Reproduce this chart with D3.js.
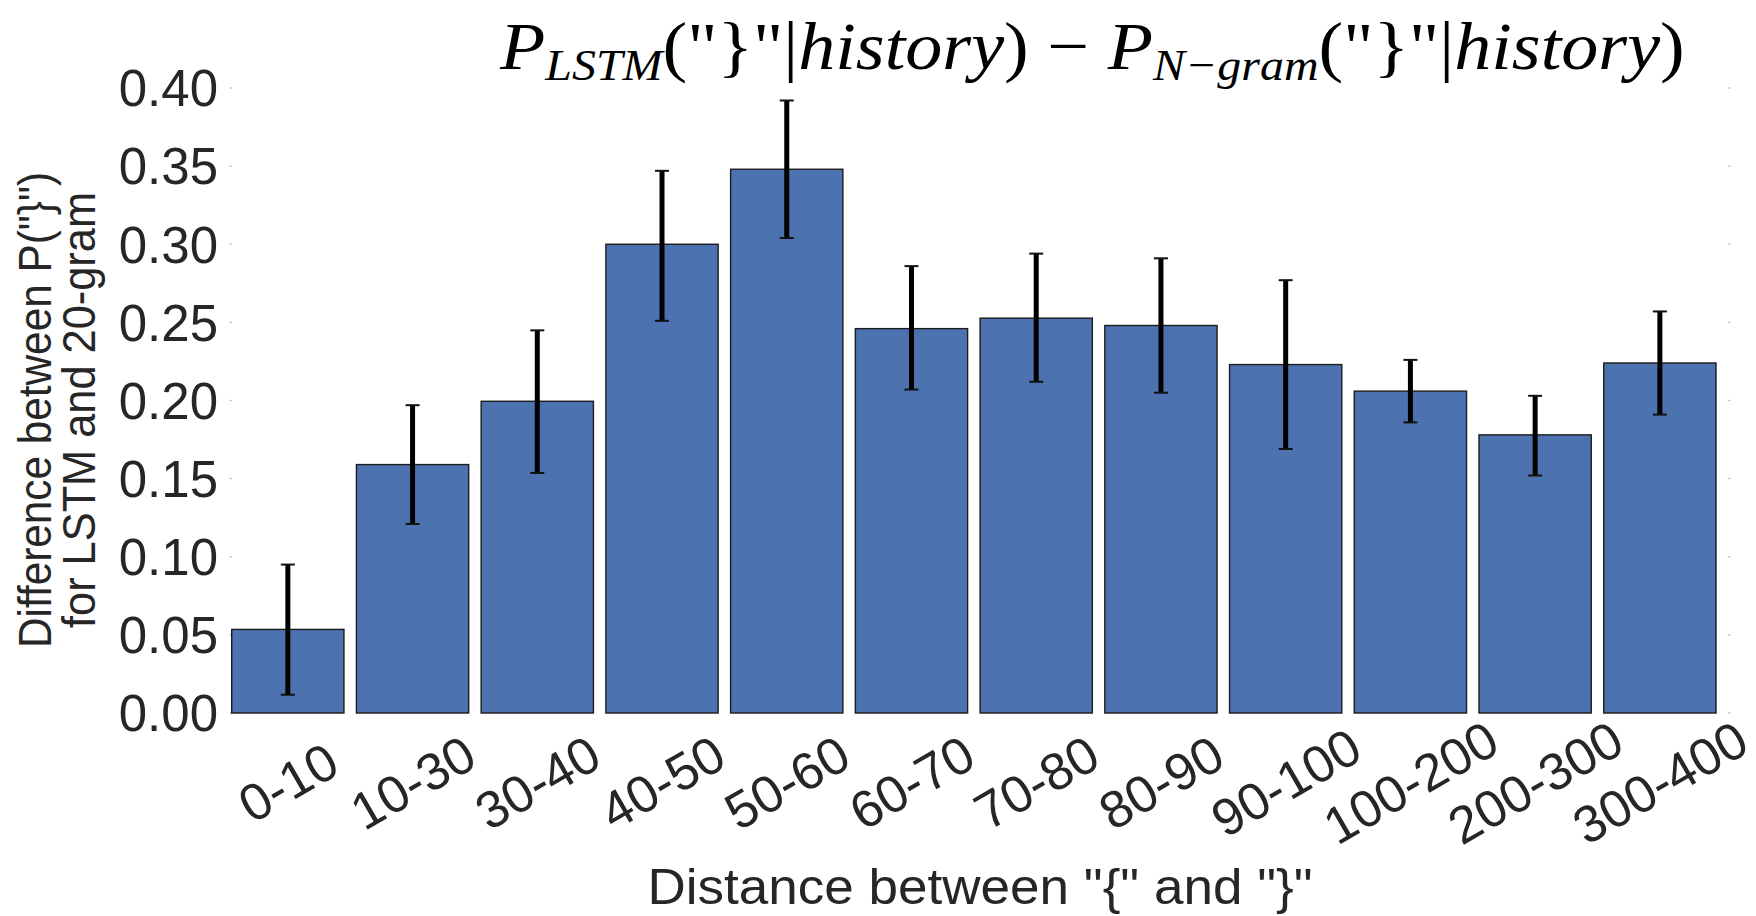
<!DOCTYPE html>
<html>
<head>
<meta charset="utf-8">
<script src="https://cdn.jsdelivr.net/npm/d3@7"></script>
<style>
  html, body { margin: 0; padding: 0; background: #fff; }
  svg { display: block; }
</style>
</head>
<body>
<div id="chart"></div>
<script>
// data
const categories = ["0-10", "10-30", "30-40", "40-50", "50-60", "60-70",
                    "70-80", "80-90", "90-100", "100-200", "200-300", "300-400"];
const values   = [0.0535, 0.159, 0.1995, 0.300, 0.348, 0.246, 0.2527, 0.248, 0.223, 0.206, 0.178, 0.224];
const errLow   = [0.0117, 0.121, 0.1536, 0.251, 0.304, 0.207, 0.212, 0.205, 0.169, 0.186, 0.152, 0.191];
const errHigh  = [0.095, 0.197, 0.2449, 0.347, 0.392, 0.286, 0.294, 0.291, 0.277, 0.226, 0.203, 0.257];
const yTicks   = [0, 0.05, 0.10, 0.15, 0.20, 0.25, 0.30, 0.35, 0.40];

const W = 1756, H = 916;
const plot = { left: 231.7, right: 1728.4, top: 88, bottom: 713 };
const textColor = "#262626";

const svg = d3.select("#chart").append("svg")
  .attr("width", W).attr("height", H);

const x = d3.scaleBand()
  .domain(categories)
  .range([plot.left, plot.right - 12.4])
  .paddingInner(0.1)
  .paddingOuter(0)
  .align(0);

const y = d3.scaleLinear().domain([0, 0.4]).range([plot.bottom, plot.top]);

// small tick marks at both sides
const tickG = svg.append("g");
tickG.selectAll("line.l").data(yTicks).enter().append("line")
  .attr("x1", plot.left - 2).attr("x2", plot.left)
  .attr("y1", d => y(d)).attr("y2", d => y(d))
  .attr("stroke", "#bbb").attr("stroke-width", 1.5);
tickG.selectAll("line.r").data(yTicks).enter().append("line")
  .attr("x1", plot.right).attr("x2", plot.right + 2)
  .attr("y1", d => y(d)).attr("y2", d => y(d))
  .attr("stroke", "#bbb").attr("stroke-width", 1.5);

// y tick labels
svg.append("g").selectAll("text").data(yTicks).enter().append("text")
  .attr("x", 218)
  .attr("y", d => y(d))
  .attr("dy", "0.36em")
  .attr("text-anchor", "end")
  .attr("font-family", "Liberation Sans, Arial, sans-serif")
  .attr("font-size", 51)
  .attr("fill", textColor)
  .text(d => d.toFixed(2));

// bars
svg.append("g").selectAll("rect").data(categories).enter().append("rect")
  .attr("x", d => x(d))
  .attr("y", (d, i) => y(values[i]))
  .attr("width", x.bandwidth())
  .attr("height", (d, i) => y(0) - y(values[i]))
  .attr("fill", "#4c72b0")
  .attr("stroke", "#1c1c1c")
  .attr("stroke-width", 1.4);

// error bars
const eg = svg.append("g");
categories.forEach((c, i) => {
  const cx = x(c) + x.bandwidth() / 2;
  eg.append("line")
    .attr("x1", cx).attr("x2", cx)
    .attr("y1", y(errLow[i])).attr("y2", y(errHigh[i]))
    .attr("stroke", "#000").attr("stroke-width", 5);
  [errLow[i], errHigh[i]].forEach(v => {
    eg.append("line")
      .attr("x1", cx - 7).attr("x2", cx + 7)
      .attr("y1", y(v)).attr("y2", y(v))
      .attr("stroke", "#111").attr("stroke-width", 2);
  });
});

// x tick labels, rotated
svg.append("g").selectAll("text").data(categories).enter().append("text")
  .attr("transform", d => `translate(${x(d) + x.bandwidth() / 2},${plot.bottom + 69}) rotate(-30)`)
  .attr("text-anchor", "middle")
  .attr("dy", "0.36em")
  .attr("font-family", "Liberation Sans, Arial, sans-serif")
  .attr("font-size", 52)
  .attr("fill", textColor)
  .text(d => d);

// x axis label
svg.append("text")
  .attr("x", 980).attr("y", 904)
  .attr("text-anchor", "middle")
  .attr("font-family", "Liberation Sans Narrow, Liberation Sans, sans-serif")
  .attr("font-size", 50)
  .attr("fill", textColor)
  .attr("textLength", 665)
  .attr("lengthAdjust", "spacingAndGlyphs")
  .text('Distance between "{" and "}"');

// y axis label, two lines
const yl = [
  { t: 'Difference between P("}")', x: 51, len: 476 },
  { t: "for LSTM and 20-gram", x: 95, len: 436 }
];
yl.forEach(l => {
  svg.append("text")
    .attr("transform", `translate(${l.x},410) rotate(-90)`)
    .attr("text-anchor", "middle")
    .attr("font-family", "Liberation Sans Narrow, Liberation Sans, sans-serif")
    .attr("font-size", 47)
    .attr("fill", textColor)
    .attr("textLength", l.len)
    .attr("lengthAdjust", "spacingAndGlyphs")
    .text(l.t);
});

// title (math-style)
const title = svg.append("text")
  .attr("x", 500).attr("y", 69)
  .attr("font-family", "Liberation Serif, DejaVu Serif, serif")
  .attr("font-size", 68)
  .attr("fill", "#000");
const parts = [
  { t: "P", it: true },
  { t: "LSTM", it: true, sub: true },
  { t: '("}"|', it: false },
  { t: "history", it: true },
  { t: ") \u2212 ", it: false },
  { t: "P", it: true },
  { t: "N\u2212gram", it: true, sub: true },
  { t: '("}"|', it: false },
  { t: "history", it: true },
  { t: ")", it: false }
];
let wasSub = false;
parts.forEach(p => {
  const ts = title.append("tspan")
    .attr("font-style", p.it ? "italic" : "normal")
    .text(p.t);
  if (p.sub) { ts.attr("font-size", 44).attr("dy", 11); wasSub = true; }
  else if (wasSub) { ts.attr("dy", -11); wasSub = false; }
});
const tb = title.node().getBBox();
const sx = 1186 / tb.width;
title.attr("transform", `translate(500,0) scale(${sx},1) translate(-500,0)`);
</script>
</body>
</html>
